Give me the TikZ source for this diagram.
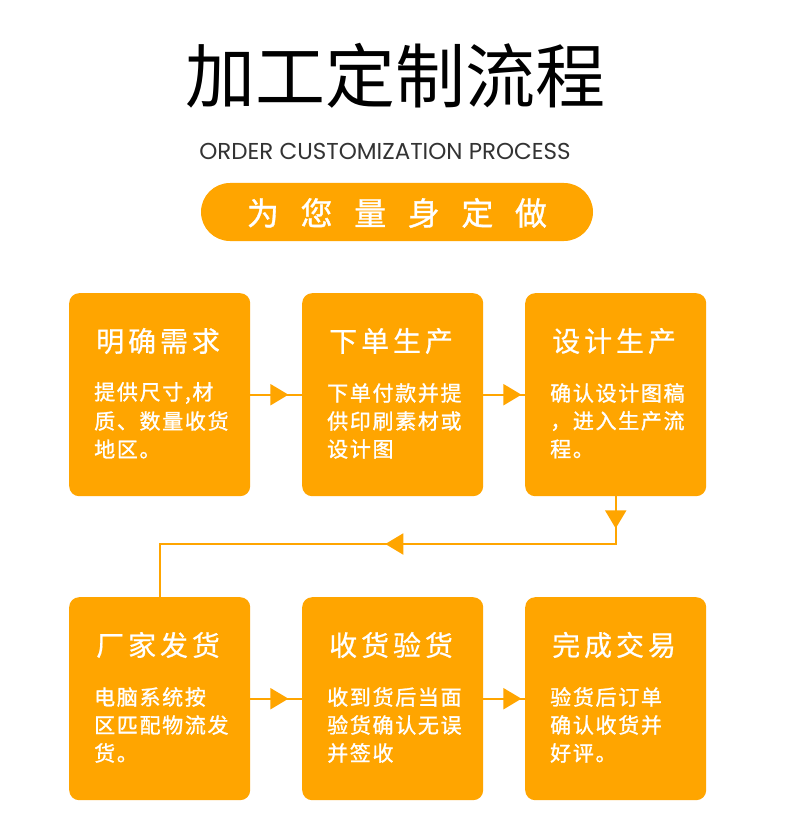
\documentclass[tikz,border=0pt]{standalone}
\usepackage{fontspec}
\usetikzlibrary{decorations.markings,arrows.meta}
\newfontfamily\cjk{Noto Sans CJK SC}
\newfontfamily\cjkpill[FakeBold=1]{Noto Sans CJK SC}
\newfontfamily\cjkls[LetterSpace=14,FakeBold=0.6]{Noto Sans CJK SC}
\newfontfamily\cjkbody[LetterSpace=8,FakeBold=1.2]{Noto Sans CJK SC}
\newfontfamily\subfont{Poppins}
\definecolor{og}{HTML}{FFA500}
\definecolor{subgray}{HTML}{333333}
\tikzset{
  card/.style={fill=og, rounded corners=10pt, minimum width=181pt, minimum height=203pt, inner sep=0pt, anchor=north west},
  ttl/.style={text=white, inner sep=0pt, anchor=west, font=\cjkls\fontsize{28}{30}\selectfont},
  bodyline/.style={text=white, inner sep=0pt, anchor=west, font=\cjkbody\fontsize{21}{24}\selectfont},
  conn/.style={draw=og, line width=2pt},
  tipat/.style={postaction=decorate, decoration={markings, mark=at position #1 with {\arrow[og]{Triangle[length=18pt,width=21pt]}}}},
}
\newcommand{\mycard}[7]{%
  \node[card] (#1) at (#2,#3) {};
  \node[ttl] (#1t) at (#2+27,#3+48) {#4};
  \node[bodyline] (#1a) at (#2+25,#3+100) {#5};
  \node[bodyline] (#1b) at (#2+25,#3+128) {#6};
  \node[bodyline] (#1c) at (#2+25,#3+156) {#7};
}
\begin{document}
\begin{tikzpicture}[x=1pt,y=-1pt]
\fill[white] (0,0) rectangle (790,837);
\path[use as bounding box] (0,0) rectangle (790,837);
\node[inner sep=0pt, font=\cjk\fontsize{70}{72}\selectfont] (title) at (395,76) {加工定制流程};
\node[inner sep=0pt, text=subgray, font=\subfont\fontsize{23}{25}\selectfont] (sub) at (385,151) {ORDER CUSTOMIZATION PROCESS};
\node[fill=og, rounded corners=29pt, minimum width=392pt, minimum height=58pt, inner sep=0pt] (pill) at (397,212) {};
\node[inner sep=0pt, text=white, font=\cjkpill\fontsize{32}{34}\selectfont] (pillt) at (397,213) {为\hspace{21.6pt}您\hspace{21.6pt}量\hspace{21.6pt}身\hspace{21.6pt}定\hspace{21.6pt}做};

\mycard{b1}{69}{293}{明确需求}{提供尺寸,材}{质、数量收货}{地区。}
\mycard{b2}{302}{293}{下单生产}{下单付款并提}{供印刷素材或}{设计图}
\mycard{b3}{525}{293}{设计生产}{确认设计图稿}{，进入生产流}{程。}
\mycard{b4}{69}{597}{厂家发货}{电脑系统按}{区匹配物流发}{货。}
\mycard{b5}{302}{597}{收货验货}{收到货后当面}{验货确认无误}{并签收}
\mycard{b6}{525}{597}{完成交易}{验货后订单}{确认收货并}{好评。}

\coordinate (c1) at (b3.south |- 0,544);
\coordinate (c2) at (b4.north |- 0,544);
\path[conn, tipat=38pt] (b1.east) -- (b2.west);
\path[conn, tipat=38pt] (b2.east) -- (b3.west);
\path[conn, tipat=38pt] (b4.east) -- (b5.west);
\path[conn, tipat=38pt] (b5.east) -- (b6.west);
\path[conn, postaction=decorate, decoration={markings,
  mark=at position 32pt with {\arrow[og]{Triangle[length=18pt,width=21pt]}},
  mark=at position 278pt with {\arrow[og]{Triangle[length=18pt,width=21pt]}}}]
  (b3.south) -- (c1) -- (c2) -- (b4.north);
\end{tikzpicture}
\end{document}
